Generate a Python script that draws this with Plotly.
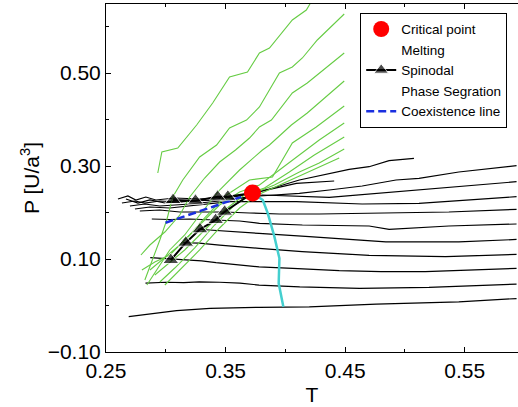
import plotly.graph_objects as go

# ---- Critical point ----
crit_T = [0.3725]
crit_P = [0.242]

# ---- Spinodal (lower branch -> critical point -> upper branch) ----
spin_T = [0.3042, 0.3167, 0.3286, 0.3417, 0.3492, 0.3725, 0.3519, 0.3433, 0.3248, 0.3061]
spin_P = [0.0978, 0.1351, 0.1639, 0.1839, 0.2017, 0.242, 0.234, 0.234, 0.2254, 0.2269]
spin_marker = [1, 1, 1, 1, 1, 0, 1, 1, 1, 1]

# ---- Coexistence line ----
coex_T = [0.2998, 0.32, 0.34, 0.36, 0.3725]
coex_P = [0.178, 0.195, 0.213, 0.231, 0.242]

# ---- Cyan line below critical point ----
cyan_T = [0.3725, 0.3811, 0.3853, 0.3908, 0.395, 0.3944, 0.3983]
cyan_P = [0.242, 0.2269, 0.1983, 0.148, 0.1015, 0.0477, -0.0026]

# ---- Black isochores (phase segregation) ----
L1_T = [0.269, 0.289, 0.309, 0.337, 0.362, 0.378, 0.420, 0.476, 0.545, 0.5933]
L1_P = [-0.024, -0.018, -0.011, -0.006, -0.004, -0.004, -0.003, 0.003, 0.008, 0.015]
L2_T = [0.283, 0.300, 0.315, 0.328, 0.345, 0.362, 0.378, 0.412, 0.462, 0.520, 0.5933]
L2_P = [0.048, 0.050, 0.049, 0.051, 0.050, 0.048, 0.044, 0.040, 0.037, 0.039, 0.046]
L3_T = [0.287, 0.300, 0.317, 0.330, 0.342, 0.362, 0.378, 0.406, 0.445, 0.480, 0.517, 0.5933]
L3_P = [0.103, 0.101, 0.098, 0.096, 0.092, 0.087, 0.083, 0.080, 0.075, 0.073, 0.073, 0.080]
L4_T = [0.314, 0.328, 0.345, 0.362, 0.378, 0.414, 0.456, 0.470, 0.534, 0.5933]
L4_P = [0.135, 0.134, 0.130, 0.127, 0.123, 0.116, 0.109, 0.108, 0.105, 0.110]
L5_T = [0.327, 0.340, 0.356, 0.378, 0.420, 0.470, 0.484, 0.545, 0.5933]
L5_P = [0.164, 0.162, 0.159, 0.155, 0.148, 0.140, 0.137, 0.137, 0.142]
L6_T = [0.2883, 0.3033, 0.32, 0.3417, 0.3617, 0.3783, 0.4142, 0.47, 0.4867, 0.5367, 0.5933]
L6_P = [0.186, 0.185, 0.186, 0.1839, 0.1817, 0.1768, 0.1731, 0.171, 0.1639, 0.171, 0.1753]
L7_T = [0.2783, 0.295, 0.3117, 0.3283, 0.3492, 0.37, 0.395, 0.4283, 0.47, 0.5367, 0.5933]
L7_P = [0.2032, 0.2054, 0.2011, 0.2011, 0.2011, 0.1989, 0.1968, 0.1968, 0.1983, 0.2011, 0.2069]
L8_T = [0.2742, 0.2867, 0.3033, 0.3283, 0.3533, 0.4092, 0.4642, 0.5117, 0.5533, 0.5933]
L8_P = [0.2075, 0.2118, 0.2097, 0.2161, 0.2232, 0.2232, 0.2183, 0.2198, 0.2269, 0.2340]
L9_T = [0.27, 0.2825, 0.295, 0.32, 0.3533, 0.3808, 0.4367, 0.4783, 0.5117, 0.5533, 0.5933]
L9_P = [0.2140, 0.2183, 0.2140, 0.2183, 0.2269, 0.2376, 0.2327, 0.2413, 0.2484, 0.2570, 0.2662]
L10_T = [0.2667, 0.2767, 0.2867, 0.2992, 0.32, 0.345, 0.3783, 0.4117, 0.4367, 0.4642, 0.4925, 0.5117, 0.545, 0.5933]
L10_P = [0.229, 0.2204, 0.2269, 0.2204, 0.2247, 0.2269, 0.2355, 0.2413, 0.2484, 0.2570, 0.2699, 0.2735, 0.2871, 0.3006]
L11_T = [0.2633, 0.2742, 0.2825, 0.295, 0.3117, 0.3367, 0.3617, 0.3808, 0.4092, 0.4408]
L11_P = [0.2204, 0.2247, 0.2204, 0.2247, 0.2226, 0.2269, 0.2355, 0.2462, 0.2628, 0.2677]
L12_T = [0.26, 0.2683, 0.275, 0.2833, 0.2917, 0.3075, 0.3283, 0.3533, 0.3725, 0.3867, 0.4117, 0.4367, 0.4533, 0.47, 0.4867, 0.5075]
L12_P = [0.229, 0.2355, 0.2269, 0.2333, 0.2269, 0.2312, 0.229, 0.2333, 0.2419, 0.2505, 0.2699, 0.2843, 0.2929, 0.2985, 0.3114, 0.3166]

black_T = [L1_T, L2_T, L3_T, L4_T, L5_T, L6_T, L7_T, L8_T, L9_T, L10_T, L11_T, L12_T]
black_P = [L1_P, L2_P, L3_P, L4_P, L5_P, L6_P, L7_P, L8_P, L9_P, L10_P, L11_P, L12_P]

# ---- Green melting lines ----
G1_T = [0.2933, 0.2967, 0.31, 0.3258, 0.3392, 0.3533, 0.3683, 0.3783, 0.3867, 0.4058, 0.4175, 0.425]
G1_P = [0.285, 0.3301, 0.3387, 0.3882, 0.4355, 0.4914, 0.5022, 0.543, 0.5538, 0.614, 0.6355, 0.6677]
G2_T = [0.2825, 0.2883, 0.295, 0.3008, 0.3058, 0.3142, 0.3283, 0.3425, 0.3533, 0.3675, 0.3783, 0.395, 0.4058, 0.4142, 0.4267, 0.4492]
G2_P = [0.0548, 0.0935, 0.1409, 0.1839, 0.2333, 0.2699, 0.3194, 0.3452, 0.3817, 0.3989, 0.4269, 0.5, 0.5129, 0.5323, 0.571, 0.6269]
G3_T = [0.2792, 0.2867, 0.2992, 0.3117, 0.32, 0.3325, 0.345, 0.3583, 0.37, 0.3783, 0.3883, 0.4058, 0.4183, 0.4492]
G3_P = [0.1086, 0.1301, 0.1581, 0.1946, 0.2333, 0.2742, 0.3086, 0.3344, 0.3602, 0.3839, 0.3989, 0.457, 0.4785, 0.543]
G4_T = [0.2842, 0.2933, 0.3033, 0.3158, 0.3283, 0.345, 0.3617, 0.3808, 0.3867, 0.405, 0.4183, 0.4492]
G4_P = [0.0441, 0.0806, 0.1194, 0.1516, 0.1946, 0.2484, 0.2914, 0.3344, 0.3452, 0.3882, 0.414, 0.4828]
G5_T = [0.28, 0.2908, 0.3033, 0.32, 0.3325, 0.3508, 0.37, 0.3892, 0.4058, 0.4258, 0.4492]
G5_P = [0.0763, 0.0935, 0.1086, 0.1516, 0.1882, 0.2376, 0.2699, 0.2763, 0.3495, 0.3839, 0.429]
G6_T = [0.2867, 0.2992, 0.3117, 0.3283, 0.345, 0.3617, 0.3783, 0.395, 0.4117, 0.4283, 0.4492]
G6_P = [0.0763, 0.1022, 0.1301, 0.1731, 0.2161, 0.2441, 0.2591, 0.2914, 0.3237, 0.3559, 0.3925]
G7_T = [0.2908, 0.3033, 0.3158, 0.3325, 0.3492, 0.3658, 0.3825, 0.4033, 0.4242, 0.4492]
G7_P = [0.0656, 0.0935, 0.1194, 0.1624, 0.2054, 0.2376, 0.2527, 0.2871, 0.3237, 0.3624]
G8_T = [0.295, 0.3075, 0.3242, 0.3408, 0.3575, 0.3742, 0.3908, 0.4117, 0.4283, 0.4492]
G8_P = [0.0505, 0.0806, 0.1237, 0.1731, 0.2161, 0.2419, 0.2591, 0.2871, 0.3065, 0.3366]
G9_T = [0.2992, 0.3117, 0.3283, 0.345, 0.3617, 0.3767, 0.395, 0.42, 0.445]
G9_P = [0.0441, 0.0763, 0.1194, 0.1667, 0.2097, 0.2376, 0.2591, 0.2871, 0.3172]

green_T = [G1_T, G2_T, G3_T, G4_T, G5_T, G6_T, G7_T, G8_T, G9_T]
green_P = [G1_P, G2_P, G3_P, G4_P, G5_P, G6_P, G7_P, G8_P, G9_P]

# ---- Axis ticks ----
x_major = [0.25, 0.35, 0.45, 0.55]
x_labels = ["0.25", "0.35", "0.45", "0.55"]
x_minor = [0.30, 0.40, 0.50]
y_major = [-0.10, 0.10, 0.30, 0.50]
y_labels = ["\u22120.10", "0.10", "0.30", "0.50"]
y_minor = [0.0, 0.20, 0.40, 0.60]

FONT = "Liberation Sans, Arial, Helvetica, sans-serif"
GREEN = "#66cc44"
CYAN = "#44cfcf"

fig = go.Figure()

for t, p in zip(black_T, black_P):
    fig.add_trace(go.Scatter(x=t, y=p, mode="lines", line=dict(color="black", width=1.2),
                             showlegend=False, hoverinfo="skip"))
for t, p in zip(green_T, green_P):
    fig.add_trace(go.Scatter(x=t, y=p, mode="lines", line=dict(color=GREEN, width=1.1),
                             showlegend=False, hoverinfo="skip"))

fig.add_trace(go.Scatter(x=cyan_T, y=cyan_P, mode="lines", line=dict(color=CYAN, width=2.5),
                         showlegend=False))

fig.add_trace(go.Scatter(x=coex_T, y=coex_P, mode="lines", name="Coexistence line",
                         line=dict(color="#1a2fe0", width=2.5, dash="8px,4px"), legendrank=5))
fig.add_trace(go.Scatter(x=spin_T, y=spin_P, mode="lines+markers", name="Spinodal",
                         line=dict(color="black", width=2),
                         marker=dict(symbol="triangle-up", color="black",
                                     size=[14 * m for m in spin_marker]), legendrank=3))
fig.add_trace(go.Scatter(x=[None], y=[None], mode="lines", name="Melting",
                         line=dict(color="rgba(0,0,0,0)", width=1), legendrank=2))
fig.add_trace(go.Scatter(x=[None], y=[None], mode="lines", name="Phase Segration",
                         line=dict(color="rgba(0,0,0,0)", width=1), legendrank=4))
fig.add_trace(go.Scatter(x=crit_T, y=crit_P, mode="markers", name="Critical point",
                         marker=dict(color="red", size=17, symbol="circle"), legendrank=1))

fig.update_layout(
    width=518, height=407,
    margin=dict(l=106, r=0, t=4, b=55),
    paper_bgcolor="white", plot_bgcolor="white",
    font=dict(family=FONT, color="black", size=21),
    showlegend=True,
    legend=dict(x=0.617, y=0.975, xanchor="left", yanchor="top",
                bgcolor="white", bordercolor="black", borderwidth=1,
                font=dict(size=13.5, family=FONT), itemwidth=30,
                tracegroupgap=0, traceorder="normal"),
    xaxis=dict(range=[0.25, 0.5945], tickmode="array", tickvals=x_major, ticktext=x_labels,
               ticks="inside", ticklen=5, tickcolor="black", showline=True, linecolor="black",
               linewidth=1, mirror="ticks", showgrid=False, zeroline=False,
               minor=dict(tickmode="array", tickvals=x_minor, ticks="inside", ticklen=3,
                          tickcolor="black", showgrid=False),
               title=dict(text="T", standoff=6, font=dict(size=21))),
    yaxis=dict(range=[-0.10, 0.6484], tickmode="array", tickvals=y_major, ticktext=y_labels,
               ticks="inside", ticklen=5, tickcolor="black", showline=True, linecolor="black",
               linewidth=1, mirror=False, showgrid=False, zeroline=False,
               minor=dict(tickmode="array", tickvals=y_minor, ticks="inside", ticklen=3,
                          tickcolor="black", showgrid=False),
               title=dict(text="P [U/a<sup>3</sup>]", standoff=2, font=dict(size=21))),
)

fig.write_html("out.html", config={"displayModeBar": False},
               post_script="document.body.style.margin='0';document.body.style.overflow='hidden';")
